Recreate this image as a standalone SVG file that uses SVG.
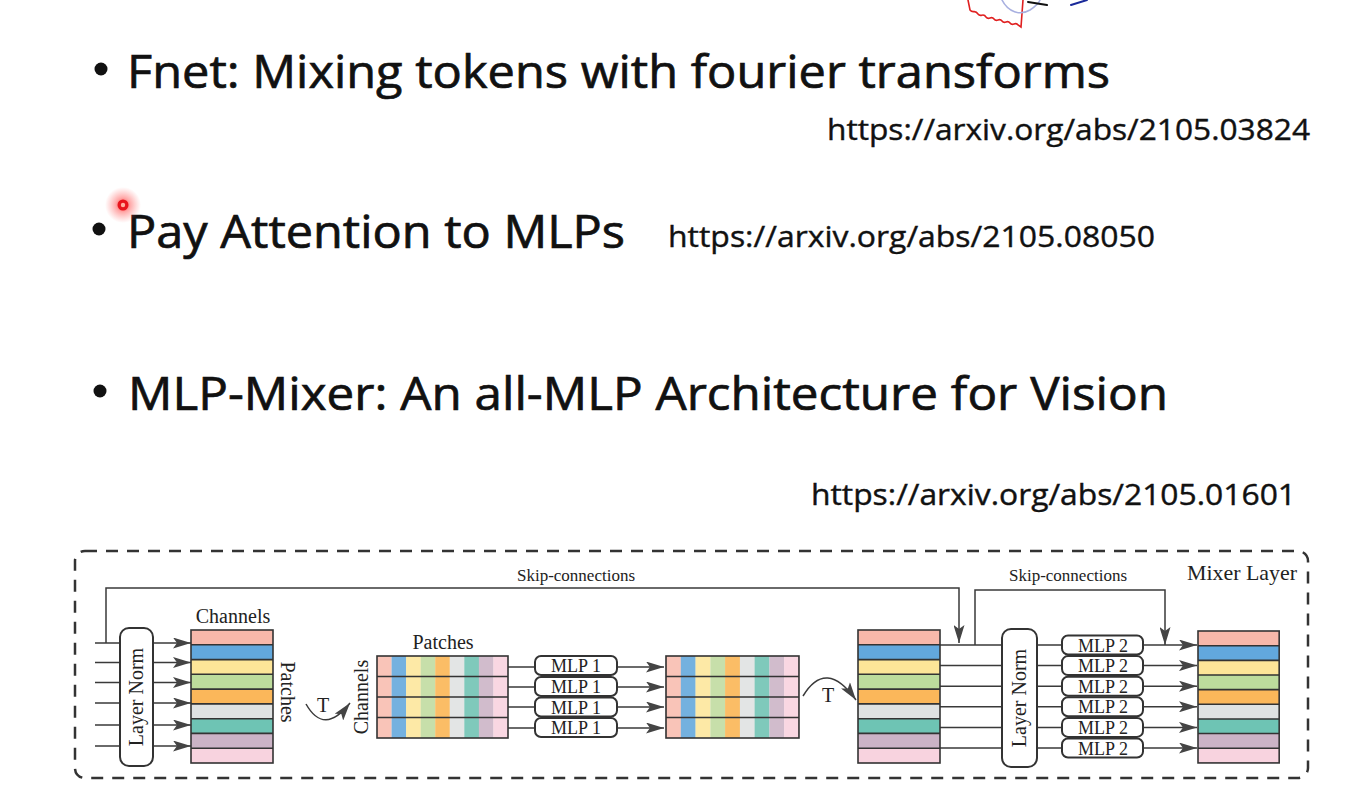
<svg xmlns="http://www.w3.org/2000/svg" width="1349" height="788" viewBox="0 0 1349 788">
<style>
.h{font-family:"Open Sans","Noto Sans",sans-serif;font-size:46px;fill:#111;stroke:#111;stroke-width:0.7}
.u{font-family:"Open Sans","Noto Sans",sans-serif;font-size:29px;fill:#111;stroke:#111;stroke-width:0.4}
.s{font-family:"Liberation Serif",serif;fill:#222}
.ln{fill:none;stroke:#3a3a3a;stroke-width:1.5}
.box{fill:#fff;stroke:#333;stroke-width:2}
.tb{fill:none;stroke:#333;stroke-width:1.6}
.r0{fill:#f7b8aa}.r1{fill:#62a8dd}.r2{fill:#fde598}.r3{fill:#bddc9c}.r4{fill:#fbb75a}.r5{fill:#dfe2e2}.r6{fill:#6ec4b4}.r7{fill:#cbb3c6}.r8{fill:#f8d3df}
.c0{fill:#f9c4b8}.c1{fill:#74b1df}.c2{fill:#fde9a6}.c3{fill:#c7dfaa}.c4{fill:#fbbd66}.c5{fill:#e3e5e5}.c6{fill:#7fc9bb}.c7{fill:#d1bccc}.c8{fill:#f9d7e2}
</style>
<defs>
<marker id="ah" viewBox="0 0 18 11" refX="18" refY="5.5" markerWidth="18" markerHeight="11" markerUnits="userSpaceOnUse" orient="auto">
<path d="M0,0 L18,5.5 L0,11 L4,5.5 z" fill="#444"/>
</marker>
<radialGradient id="glow">
<stop offset="0" stop-color="#ff2020" stop-opacity="0.9"/>
<stop offset="0.4" stop-color="#ff4040" stop-opacity="0.45"/>
<stop offset="1" stop-color="#ff6060" stop-opacity="0"/>
</radialGradient>
<g id="rows">
<rect class="r0" x="0" y="0" width="82" height="14.8"/>
<rect class="r1" x="0" y="14.8" width="82" height="14.8"/>
<rect class="r2" x="0" y="29.6" width="82" height="14.8"/>
<rect class="r3" x="0" y="44.3" width="82" height="14.8"/>
<rect class="r4" x="0" y="59.1" width="82" height="14.8"/>
<rect class="r5" x="0" y="73.9" width="82" height="14.8"/>
<rect class="r6" x="0" y="88.7" width="82" height="14.8"/>
<rect class="r7" x="0" y="103.4" width="82" height="14.8"/>
<rect class="r8" x="0" y="118.2" width="82" height="14.8"/>
<path class="tb" d="M0,14.8H82M0,29.6H82M0,44.3H82M0,59.1H82M0,73.9H82M0,88.7H82M0,103.4H82M0,118.2H82"/>
<rect class="tb" x="0" y="0" width="82" height="133"/>
</g>
<g id="cols">
<rect class="c0" x="0" y="0" width="14.7" height="82"/>
<rect class="c1" x="14.6" y="0" width="14.7" height="82"/>
<rect class="c2" x="29.1" y="0" width="14.7" height="82"/>
<rect class="c3" x="43.7" y="0" width="14.7" height="82"/>
<rect class="c4" x="58.2" y="0" width="14.7" height="82"/>
<rect class="c5" x="72.8" y="0" width="14.7" height="82"/>
<rect class="c6" x="87.3" y="0" width="14.7" height="82"/>
<rect class="c7" x="101.9" y="0" width="14.7" height="82"/>
<rect class="c8" x="116.4" y="0" width="14.6" height="82"/>
<path class="tb" d="M0,20.5H131M0,41H131M0,61.5H131"/>
<rect class="tb" x="0" y="0" width="131" height="82"/>
</g>
</defs>
<rect width="1349" height="788" fill="#fff"/>

<g id="scribble" fill="none" stroke-linecap="round">
<path d="M968,0 L970,10 C973,14 975,9 978,14 C981,18 983,12 986,17 C989,21 991,15 994,19 C997,23 999,17 1002,21 C1005,25 1007,19 1010,23 C1013,27 1015,21 1018,25 L1021,27 L1023,0" stroke="#e02020" stroke-width="1.6"/>
<path d="M1002,0 C1008,12 1020,16 1030,10 C1036,6 1039,3 1040,0" stroke="#a8b0e0" stroke-width="1.6"/>
<path d="M1028,2 L1047,5" stroke="#111" stroke-width="2"/>
<path d="M1071,5 L1087,0" stroke="#1a2a9a" stroke-width="2"/>
</g>

<g id="bullet-fnet">
<circle cx="101" cy="69" r="6.5" fill="#111"/>
<text class="h" x="127" y="88" textLength="983" lengthAdjust="spacingAndGlyphs">Fnet: Mixing tokens with fourier transforms</text>
<text class="u" x="827" y="140" textLength="483" lengthAdjust="spacingAndGlyphs">https://arxiv.org/abs/2105.03824</text>
</g>
<g id="bullet-gmlp">
<circle cx="99" cy="229" r="6.5" fill="#111"/>
<text class="h" x="127" y="248" textLength="498" lengthAdjust="spacingAndGlyphs">Pay Attention to MLPs</text>
<text class="u" x="668" y="247" textLength="487" lengthAdjust="spacingAndGlyphs">https://arxiv.org/abs/2105.08050</text>
</g>
<g id="bullet-mixer">
<circle cx="100" cy="391" r="6.5" fill="#111"/>
<text class="h" x="128" y="410" textLength="1040" lengthAdjust="spacingAndGlyphs">MLP-Mixer: An all-MLP Architecture for Vision</text>
<text class="u" x="811" y="505" textLength="485" lengthAdjust="spacingAndGlyphs">https://arxiv.org/abs/2105.01601</text>
</g>

<g id="pointer">
<circle cx="123" cy="205" r="18" fill="url(#glow)"/>
<circle cx="123" cy="205" r="5.5" fill="#e8141c"/>
<circle cx="123" cy="205" r="2.2" fill="#ffb0a0"/>
</g>

<g id="mixer-frame">
<rect x="75" y="551" width="1233" height="227" rx="10" fill="none" stroke="#333" stroke-width="2.5" stroke-dasharray="12 9"/>
<text class="s" x="1187" y="580" font-size="21" textLength="110" lengthAdjust="spacingAndGlyphs">Mixer Layer</text>
</g>

<g id="connectors">
<path class="ln" d="M95,643H120M95,662.5H120M95,682.5H120M95,703H120M95,725H120M95,746H120"/>
<path class="ln" d="M153,643H191" marker-end="url(#ah)"/>
<path class="ln" d="M153,662.5H191" marker-end="url(#ah)"/>
<path class="ln" d="M153,682.5H191" marker-end="url(#ah)"/>
<path class="ln" d="M153,703H191" marker-end="url(#ah)"/>
<path class="ln" d="M153,725H191" marker-end="url(#ah)"/>
<path class="ln" d="M153,746H191" marker-end="url(#ah)"/>
<path class="ln" d="M106,643V588H959V643" marker-end="url(#ah)"/>
<path class="ln" d="M306,704Q324,736 350,703" marker-end="url(#ah)"/>
<path class="ln" d="M508,667H535M508,687H535M508,707H535M508,728H535"/>
<path class="ln" d="M617,667H664" marker-end="url(#ah)"/>
<path class="ln" d="M617,687H664" marker-end="url(#ah)"/>
<path class="ln" d="M617,707H664" marker-end="url(#ah)"/>
<path class="ln" d="M617,728H664" marker-end="url(#ah)"/>
<path class="ln" d="M803,696Q826,658 856,700" marker-end="url(#ah)"/>
<path class="ln" d="M940,645H1002M940,665.6H1002M940,686.2H1002M940,706.8H1002M940,727.4H1002M940,748H1002"/>
<path class="ln" d="M975,645V590H1165V645" marker-end="url(#ah)"/>
<path class="ln" d="M1037,645H1062M1037,665.6H1062M1037,686.2H1062M1037,706.8H1062M1037,727.4H1062M1037,748H1062"/>
<path class="ln" d="M1143,645H1197" marker-end="url(#ah)"/>
<path class="ln" d="M1143,665.6H1197" marker-end="url(#ah)"/>
<path class="ln" d="M1143,686.2H1197" marker-end="url(#ah)"/>
<path class="ln" d="M1143,706.8H1197" marker-end="url(#ah)"/>
<path class="ln" d="M1143,727.4H1197" marker-end="url(#ah)"/>
<path class="ln" d="M1143,748H1197" marker-end="url(#ah)"/>
<text class="s" x="576" y="581" font-size="17" text-anchor="middle">Skip-connections</text>
<text class="s" x="1068" y="581" font-size="17" text-anchor="middle">Skip-connections</text>
<text class="s" x="323" y="712" font-size="20" text-anchor="middle">T</text>
<text class="s" x="828" y="702" font-size="20" text-anchor="middle">T</text>
</g>

<g id="layernorm1">
<rect class="box" x="120" y="628" width="33" height="138" rx="9"/>
<text class="s" font-size="20" text-anchor="middle" transform="translate(143,697) rotate(-90)">Layer Norm</text>
</g>

<g id="table1">
<use href="#rows" x="191" y="630"/>
<text class="s" x="233" y="623" font-size="20" text-anchor="middle">Channels</text>
<text class="s" font-size="20" text-anchor="middle" transform="translate(281,692) rotate(90)">Patches</text>
</g>

<g id="table2">
<use href="#cols" x="377" y="656"/>
<text class="s" x="443" y="649" font-size="20" text-anchor="middle">Patches</text>
<text class="s" font-size="20" text-anchor="middle" transform="translate(368,697) rotate(-90)">Channels</text>
</g>

<g id="mlp1">
<rect class="box" x="535" y="656" width="82" height="19" rx="6"/>
<rect class="box" x="535" y="677" width="82" height="19" rx="6"/>
<rect class="box" x="535" y="697.5" width="82" height="19" rx="6"/>
<rect class="box" x="535" y="718" width="82" height="19" rx="6"/>
<text class="s" x="576" y="672" font-size="18" text-anchor="middle">MLP 1</text>
<text class="s" x="576" y="693" font-size="18" text-anchor="middle">MLP 1</text>
<text class="s" x="576" y="713.5" font-size="18" text-anchor="middle">MLP 1</text>
<text class="s" x="576" y="734" font-size="18" text-anchor="middle">MLP 1</text>
</g>

<g id="table3">
<use href="#cols" x="666" y="656" transform="translate(666,656) scale(1.015,1) translate(-666,-656)"/>
</g>

<g id="table4">
<use href="#rows" x="858" y="630"/>
</g>

<g id="layernorm2">
<rect class="box" x="1002" y="629" width="35" height="138" rx="9"/>
<text class="s" font-size="20" text-anchor="middle" transform="translate(1026,698) rotate(-90)">Layer Norm</text>
</g>

<g id="mlp2">
<rect class="box" x="1062" y="635.5" width="81" height="19" rx="6"/>
<rect class="box" x="1062" y="656.1" width="81" height="19" rx="6"/>
<rect class="box" x="1062" y="676.7" width="81" height="19" rx="6"/>
<rect class="box" x="1062" y="697.3" width="81" height="19" rx="6"/>
<rect class="box" x="1062" y="717.9" width="81" height="19" rx="6"/>
<rect class="box" x="1062" y="738.5" width="81" height="19" rx="6"/>
<text class="s" x="1103" y="651.5" font-size="18" text-anchor="middle">MLP 2</text>
<text class="s" x="1103" y="672.1" font-size="18" text-anchor="middle">MLP 2</text>
<text class="s" x="1103" y="692.7" font-size="18" text-anchor="middle">MLP 2</text>
<text class="s" x="1103" y="713.3" font-size="18" text-anchor="middle">MLP 2</text>
<text class="s" x="1103" y="733.9" font-size="18" text-anchor="middle">MLP 2</text>
<text class="s" x="1103" y="754.5" font-size="18" text-anchor="middle">MLP 2</text>
</g>

<g id="table5">
<use href="#rows" x="1198" y="631" transform="translate(1198,631) scale(0.99,0.992) translate(-1198,-631)"/>
</g>
</svg>
